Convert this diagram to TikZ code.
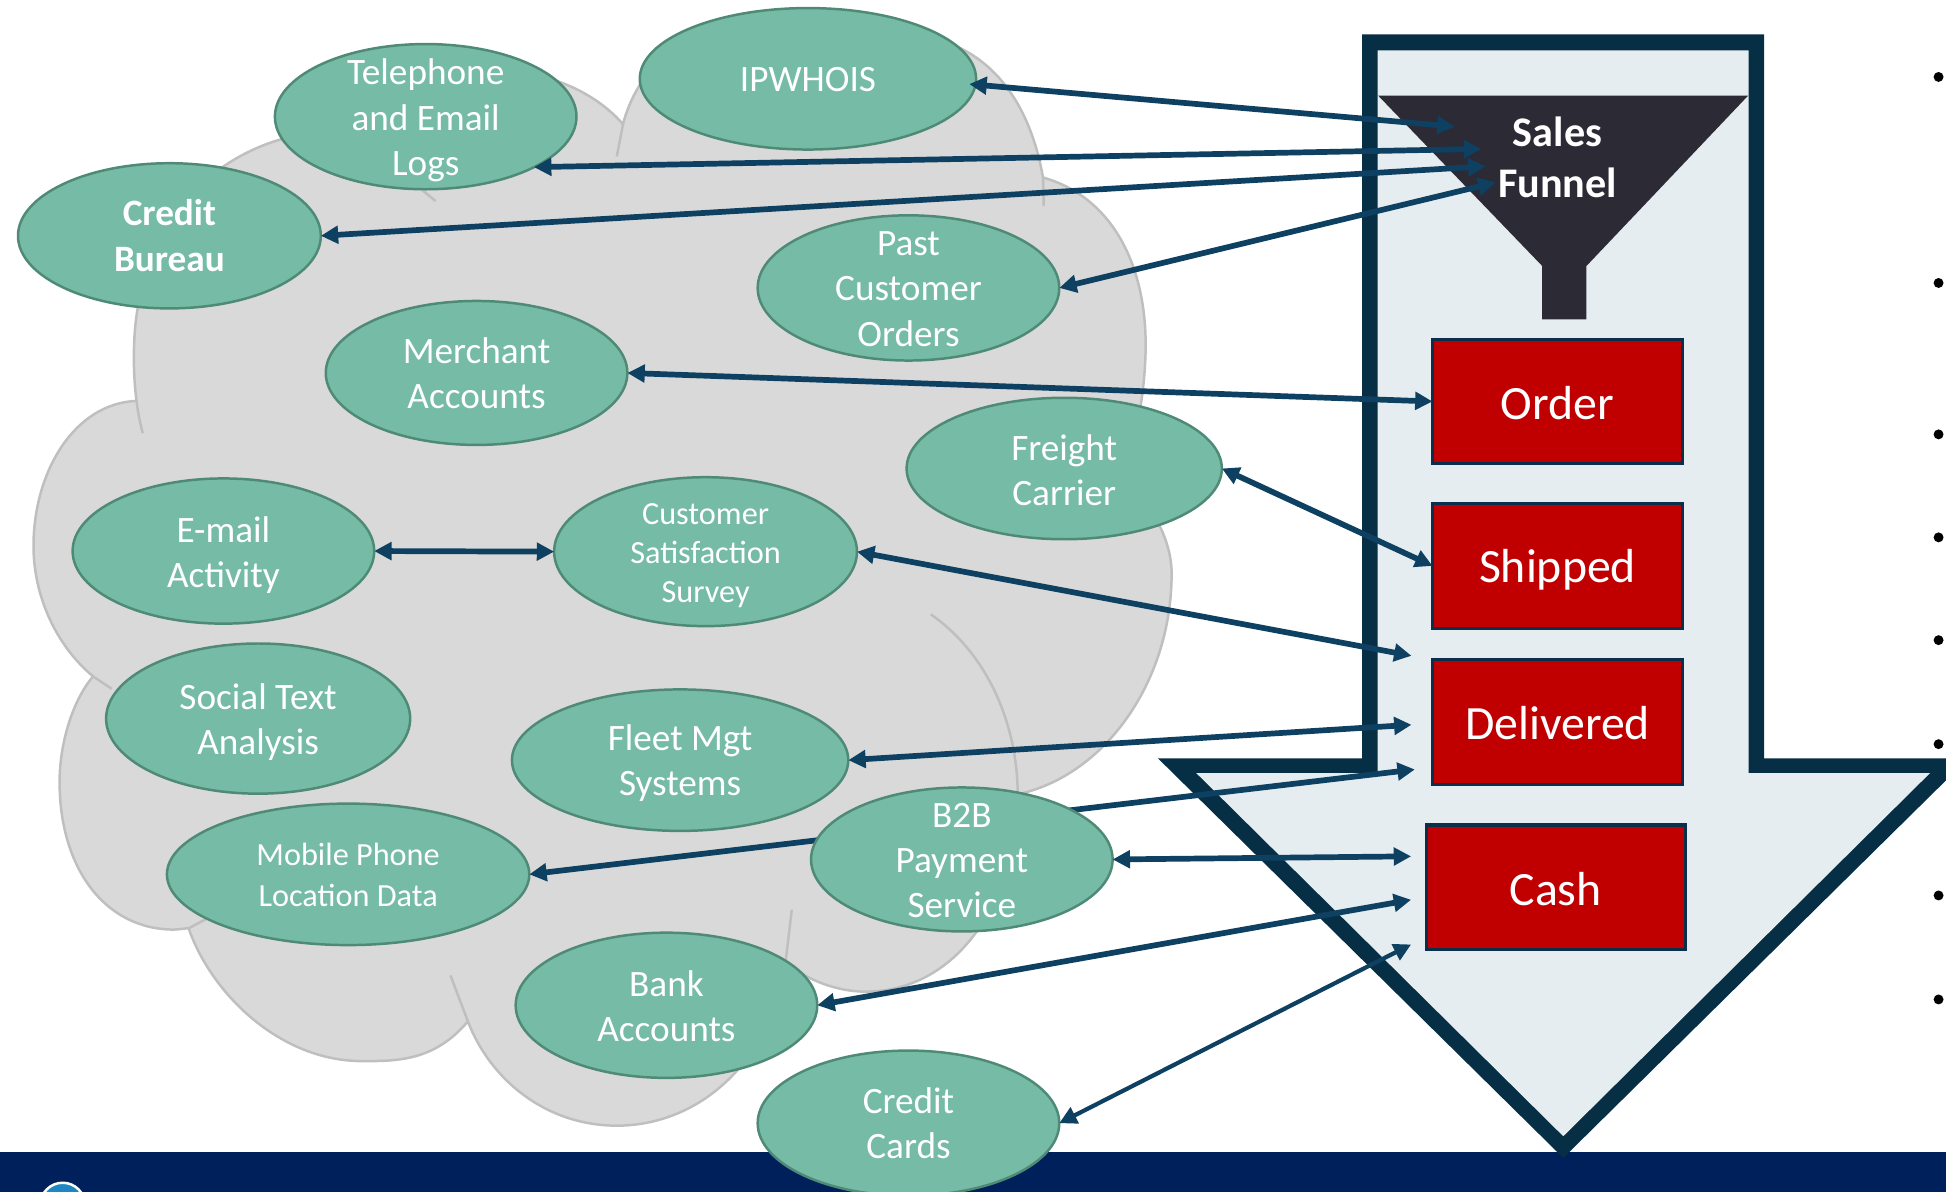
\documentclass[tikz,border=0pt]{standalone}
\usepackage{fontspec}
\setmainfont{Carlito}
\usetikzlibrary{shapes.geometric,arrows.meta}
\definecolor{cloudfill}{HTML}{D9D9D9}
\definecolor{cloudline}{HTML}{BFBFBF}
\definecolor{bandblue}{HTML}{00205C}
\definecolor{arrowdark}{HTML}{062E45}
\definecolor{arrowlight}{HTML}{E5EDF0}
\definecolor{funnelcol}{HTML}{2C2A35}
\definecolor{boxred}{HTML}{C00000}
\definecolor{boxline}{HTML}{0B2E4C}
\definecolor{ellfill}{HTML}{75BBA6}
\definecolor{ellline}{HTML}{4F8A76}
\definecolor{linkcol}{HTML}{0E4062}
\definecolor{logoblue}{HTML}{1F87BF}
\tikzset{
  ell/.style={ellipse,draw=ellline,fill=ellfill,line width=2pt,inner sep=0pt,outer sep=0pt},
  elltext/.style={text=white,align=center,inner sep=0pt,font=\fontsize{30}{36.5}\selectfont},
  ellsmall/.style={text=white,align=center,inner sep=0pt,font=\fontsize{26}{31.5}\selectfont},
  ellmob/.style={text=white,align=center,inner sep=0pt,font=\fontsize{26}{33}\selectfont},
  ellbold/.style={text=white,align=center,inner sep=0pt,font=\fontsize{30}{37}\selectfont\bfseries},
  stagetext/.style={text=white,inner sep=0pt,font=\fontsize{38.5}{46}\selectfont},
  stagebox/.style={rectangle,draw=boxline,fill=boxred,line width=2.5pt,inner sep=0pt,outer sep=0pt},
  link/.style={draw=linkcol,line width=4.6pt,{Triangle[length=14pt,width=14pt]}-{Triangle[length=14pt,width=14pt]}},
  thinlink/.style={link,line width=3.4pt},
  cloudedge/.style={draw=cloudline,line width=2pt},
  dotmark/.style={circle,fill=black,inner sep=0pt,minimum size=8pt}
}
\begin{document}
\begin{tikzpicture}[x=1pt,y=-1pt]
\useasboundingbox (0,0) rectangle (1568,960);
\clip (-2,-2) rectangle (1570,962);
% cloud
\path[fill=cloudfill,cloudedge]
 (110,323) .. controls (107,300) and (107,270) .. (111,248)
 .. controls (118,180) and (170,125) .. (235,110)
 -- (270,110) .. controls (300,50) and (440,30) .. (502,100)
 .. controls (515,50) and (560,10) .. (640,20)
 -- (770,37) .. controls (810,55) and (832,95) .. (840.4,143)
 .. controls (900,160) and (925,220) .. (923,285)
 .. controls (922,320) and (915,355) .. (905,385)
 .. controls (932,410) and (945,440) .. (944,465)
 .. controls (943,550) and (890,625) .. (820,640)
 .. controls (820,720) and (775,799) .. (697,799)
 .. controls (675,799) and (650,790) .. (633,775)
 .. controls (620,860) and (560,907) .. (497,907)
 .. controls (440,907) and (395,870) .. (377,823)
 .. controls (350,855) and (320,855) .. (292,855)
 .. controls (225,855) and (170,800) .. (152,748)
 .. controls (148,748) and (145,749) .. (140,749)
 .. controls (85,749) and (48,700) .. (48,630)
 .. controls (48,600) and (58,565) .. (75,545)
 .. controls (45,520) and (27,480) .. (27,440)
 .. controls (27,380) and (60,325) .. (110,323) -- cycle;
\draw[cloudedge] (110,323) .. controls (111,332) and (113,341) .. (115,349);
\draw[cloudedge] (340,153) -- (351,162);
\draw[cloudedge] (502,100) -- (497,126);
\draw[cloudedge] (840.4,143) -- (841,166);
\draw[cloudedge] (750,495) .. controls (800,530) and (820,590) .. (820,640);
\draw[cloudedge] (363,786) -- (377,823);
\draw[cloudedge] (638,733) -- (633,775);
\draw[cloudedge] (75,545) -- (90,555);
\draw[cloudedge] (167,740) -- (152,748);
% band
\fill[bandblue] (-2,928) rectangle (1570,962);
\draw[white,line width=2pt,fill=logoblue] (50.5,971) circle (18);
% big arrow
\fill[arrowdark] (1097.5,27.7) -- (1421.5,27.7) -- (1421.5,611) -- (1586,611) -- (1259.6,933) -- (933,611) -- (1097.5,611) -- cycle;
\fill[arrowlight] (1110,40.6) -- (1409,40.6) -- (1409,623) -- (1555,623) -- (1259.6,915.5) -- (964,623) -- (1110,623) -- cycle;
% funnel
\fill[funnelcol] (1110.4,77) -- (1408.6,77) -- (1278.3,214.3) -- (1278.3,257.4) -- (1242.6,257.4) -- (1242.6,214.3) -- cycle;
\node[text=white,align=center,inner sep=0pt,font=\fontsize{34}{41}\selectfont\bfseries] (funnel) at (1255,126.5) {Sales\\Funnel};
% stages
\node[stagebox,minimum width=201.5pt,minimum height=100.5pt,label={[stagetext,yshift=-1pt]center:Order}] (order) at (1255,323.5) {};
\node[stagebox,minimum width=201.5pt,minimum height=100.5pt,label={[stagetext,yshift=-3pt]center:Shipped}] (shipped) at (1255,456) {};
\node[stagebox,minimum width=201.5pt,minimum height=100.5pt,label={[stagetext,yshift=-1pt]center:Delivered}] (delivered) at (1255,582) {};
\node[stagebox,minimum width=208.5pt,minimum height=100.5pt,label={[stagetext,yshift=-1pt]center:Cash}] (cash) at (1253.5,715) {};
% sources
\node[ell,minimum width=271pt,minimum height=114pt,label={[elltext,yshift=-1pt]center:IPWHOIS}] (ipw) at (651,63.5) {};
\node[ell,minimum width=243pt,minimum height=117pt,label={[elltext,yshift=-3pt]center:Telephone\\and Email\\Logs}] (tel) at (343,94) {};
\node[ell,minimum width=244pt,minimum height=117pt,label={[ellbold]center:Credit\\Bureau}] (bureau) at (136.5,190) {};
\node[ell,minimum width=243pt,minimum height=117pt,label={[elltext,yshift=-1pt]center:Past\\Customer\\Orders}] (past) at (732,232) {};
\node[ell,minimum width=243pt,minimum height=116pt,label={[elltext]center:Merchant\\Accounts}] (merchant) at (384,300.5) {};
\node[ell,minimum width=254pt,minimum height=114pt,label={[elltext,yshift=-1.5pt]center:Freight\\Carrier}] (freight) at (857.5,377.5) {};
\node[ell,minimum width=243pt,minimum height=117pt,label={[elltext,yshift=-3pt]center:E-mail\\Activity}] (email) at (180,444) {};
\node[ell,minimum width=244pt,minimum height=120pt,label={[ellsmall,yshift=-3pt]center:Customer\\Satisfaction\\Survey}] (survey) at (568.5,444.5) {};
\node[ell,minimum width=245pt,minimum height=121pt,label={[elltext,yshift=-3pt]center:Social Text\\Analysis}] (social) at (208,579) {};
\node[ell,minimum width=271pt,minimum height=114pt,label={[elltext,yshift=-2.5pt]center:Fleet Mgt\\Systems}] (fleet) at (548,612.5) {};
\node[ell,minimum width=292pt,minimum height=114pt,label={[ellmob,yshift=-0.5pt]center:Mobile Phone\\Location Data}] (mobile) at (280.5,704.5) {};
\node[ell,minimum width=243pt,minimum height=117pt,label={[elltext,yshift=-1pt]center:Bank\\Accounts}] (bank) at (537,810) {};
\node[ell,minimum width=243pt,minimum height=117pt,label={[elltext]center:Credit\\Cards}] (cards) at (732,905) {};
% free ends
\coordinate (fIp) at (1172,102);
\coordinate (fTel) at (1193.6,120);
\coordinate (fBur) at (1197,134);
\coordinate (fPast) at (1205,147);
\coordinate (dSurvey) at (1137.3,528.4);
\coordinate (dFleet) at (1137.3,584);
\coordinate (dMobile) at (1140,620);
\coordinate (cB2b) at (1137,690);
\coordinate (cBank) at (1137,725);
\coordinate (cCards) at (1137,761);
% line that runs behind the B2B ellipse
\draw[link] (mobile.east) -- (dMobile);
\node[ell,minimum width=243pt,minimum height=116pt,label={[elltext,yshift=-1pt]center:B2B\\Payment\\Service}] (b2b) at (775,692.5) {};
% connectors
\draw[link,shorten <=-5pt] (ipw.-2) -- (fIp);
\draw[link] (tel.-25) -- (fTel);
\draw[link] (bureau.east) -- (fBur);
\draw[link] (past.east) -- (fPast);
\draw[link] (merchant.east) -- (order.west);
\draw[link] (freight.east) -- (shipped.west);
\draw[link] (email.east) -- (survey.west);
\draw[link] (survey.east) -- (dSurvey);
\draw[link] (fleet.east) -- (dFleet);
\draw[link] (b2b.east) -- (cB2b);
\draw[link] (bank.east) -- (cBank);
\draw[thinlink] (cards.east) -- (cCards);
% bullets
\foreach \yy [count=\i] in {62,228,350,433,515.8,599.6,721.5,805.3}
  \node[dotmark] (dot\i) at (1562,\yy) {};
\end{tikzpicture}
\end{document}
